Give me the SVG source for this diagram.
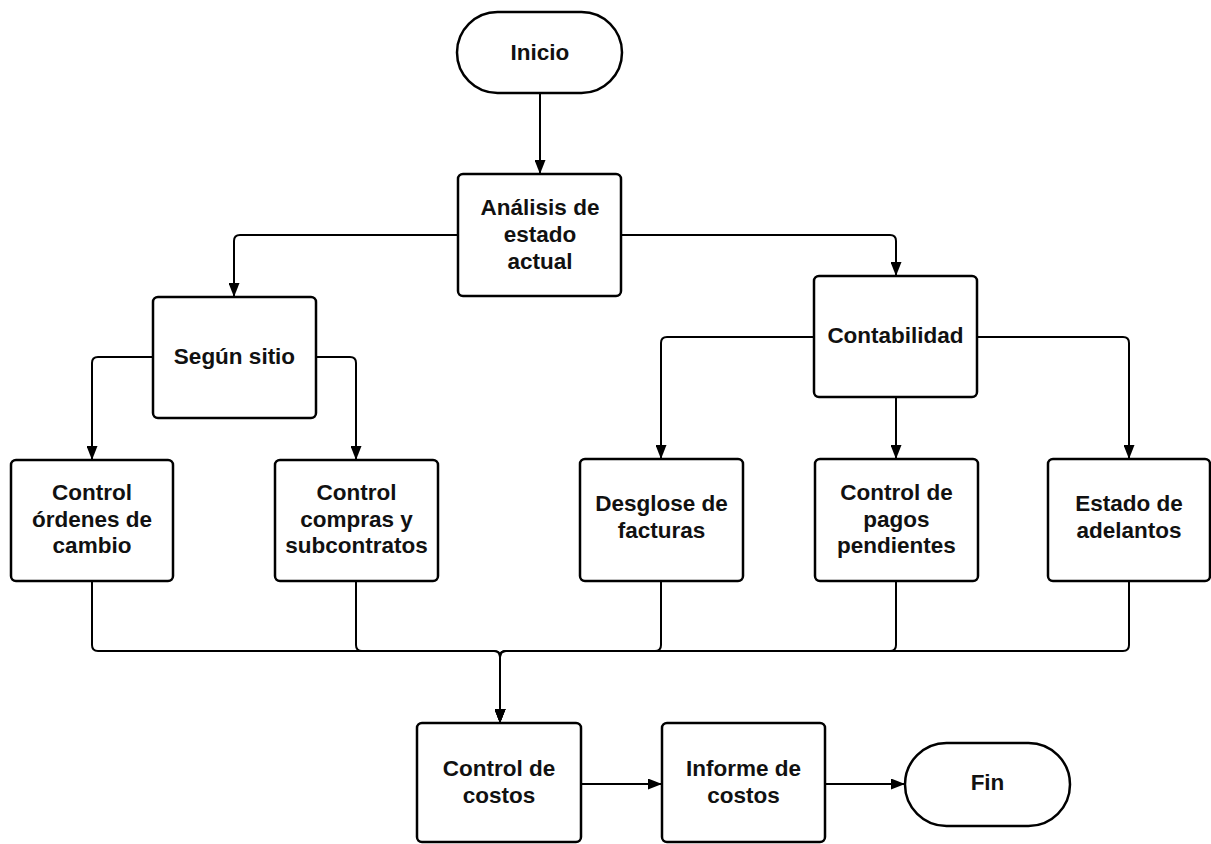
<svg xmlns="http://www.w3.org/2000/svg" width="1211" height="844" viewBox="0 0 1211 844">
<style>
.box{fill:#fff;stroke:#000;stroke-width:2.5}
.t{font-family:"Liberation Sans",Arial,sans-serif;font-weight:bold;font-size:22.5px;fill:#111;text-anchor:middle}
.c{fill:none;stroke:#000;stroke-width:2}
</style>
<defs>
<marker id="ah" viewBox="0 0 14 11" refX="14" refY="5.5" markerWidth="14" markerHeight="11" markerUnits="userSpaceOnUse" orient="auto">
<path d="M0,0 L14,5.5 L0,11 Z" fill="#000"/>
</marker>
</defs>
<rect width="1211" height="844" fill="#fff"/>
<g id="connectors">
<path class="c" d="M540 93 V174" marker-end="url(#ah)"/>
<path class="c" d="M458 235 H240 Q234 235 234 241 V297" marker-end="url(#ah)"/>
<path class="c" d="M621 235 H890 Q896 235 896 241 V276" marker-end="url(#ah)"/>
<path class="c" d="M153 357 H98 Q92 357 92 363 V460" marker-end="url(#ah)"/>
<path class="c" d="M316 357 H350 Q356 357 356 363 V460" marker-end="url(#ah)"/>
<path class="c" d="M814 337 H667 Q661 337 661 343 V459" marker-end="url(#ah)"/>
<path class="c" d="M896 397 V459" marker-end="url(#ah)"/>
<path class="c" d="M977 337 H1123 Q1129 337 1129 343 V459" marker-end="url(#ah)"/>
<path class="c" d="M92 581 V645 Q92 651 98 651 H494 Q500 651 500 657 V723" marker-end="url(#ah)"/>
<path class="c" d="M356 581 V645 Q356 651 362 651 H494 Q500 651 500 657 V723" marker-end="url(#ah)"/>
<path class="c" d="M661 581 V645 Q661 651 655 651 H506 Q500 651 500 657 V723" marker-end="url(#ah)"/>
<path class="c" d="M896 581 V645 Q896 651 890 651 H506 Q500 651 500 657 V723" marker-end="url(#ah)"/>
<path class="c" d="M1129 581 V645 Q1129 651 1123 651 H506 Q500 651 500 657 V723" marker-end="url(#ah)"/>
<path class="c" d="M581 784 H662" marker-end="url(#ah)"/>
<path class="c" d="M825 784 H905" marker-end="url(#ah)"/>
</g>
<g id="inicio">
<rect class="box" x="457" y="12" width="165" height="81" rx="40.5"/>
<text class="t" x="540" y="60">Inicio</text>
</g>
<g id="analisis">
<rect class="box" x="458" y="174" width="163" height="122" rx="5"/>
<text class="t" x="540" y="215">Análisis de</text>
<text class="t" x="540" y="242">estado</text>
<text class="t" x="540" y="269">actual</text>
</g>
<g id="segun">
<rect class="box" x="153" y="297" width="163" height="121" rx="5"/>
<text class="t" x="234.5" y="364">Según sitio</text>
</g>
<g id="contabilidad">
<rect class="box" x="814" y="276" width="163" height="121" rx="5"/>
<text class="t" x="895.5" y="343">Contabilidad</text>
</g>
<g id="ordenes">
<rect class="box" x="11" y="460" width="162" height="121" rx="5"/>
<text class="t" x="92" y="500">Control</text>
<text class="t" x="92" y="526.5">órdenes de</text>
<text class="t" x="92" y="553">cambio</text>
</g>
<g id="compras">
<rect class="box" x="275" y="460" width="163" height="121" rx="5"/>
<text class="t" x="356.5" y="500">Control</text>
<text class="t" x="356.5" y="526.5">compras y</text>
<text class="t" x="356.5" y="553">subcontratos</text>
</g>
<g id="desglose">
<rect class="box" x="580" y="459" width="163" height="122" rx="5"/>
<text class="t" x="661.5" y="511">Desglose de</text>
<text class="t" x="661.5" y="538">facturas</text>
</g>
<g id="pagos">
<rect class="box" x="815" y="459" width="163" height="122" rx="5"/>
<text class="t" x="896.5" y="500">Control de</text>
<text class="t" x="896.5" y="526.5">pagos</text>
<text class="t" x="896.5" y="553">pendientes</text>
</g>
<g id="adelantos">
<rect class="box" x="1048" y="459" width="162" height="122" rx="5"/>
<text class="t" x="1129" y="511">Estado de</text>
<text class="t" x="1129" y="538">adelantos</text>
</g>
<g id="control-costos">
<rect class="box" x="417" y="723" width="164" height="119" rx="5"/>
<text class="t" x="499" y="776">Control de</text>
<text class="t" x="499" y="803">costos</text>
</g>
<g id="informe">
<rect class="box" x="662" y="723" width="163" height="119" rx="5"/>
<text class="t" x="743.5" y="776">Informe de</text>
<text class="t" x="743.5" y="803">costos</text>
</g>
<g id="fin">
<rect class="box" x="905" y="743" width="165" height="83" rx="41.5"/>
<text class="t" x="987.5" y="790">Fin</text>
</g>
</svg>
